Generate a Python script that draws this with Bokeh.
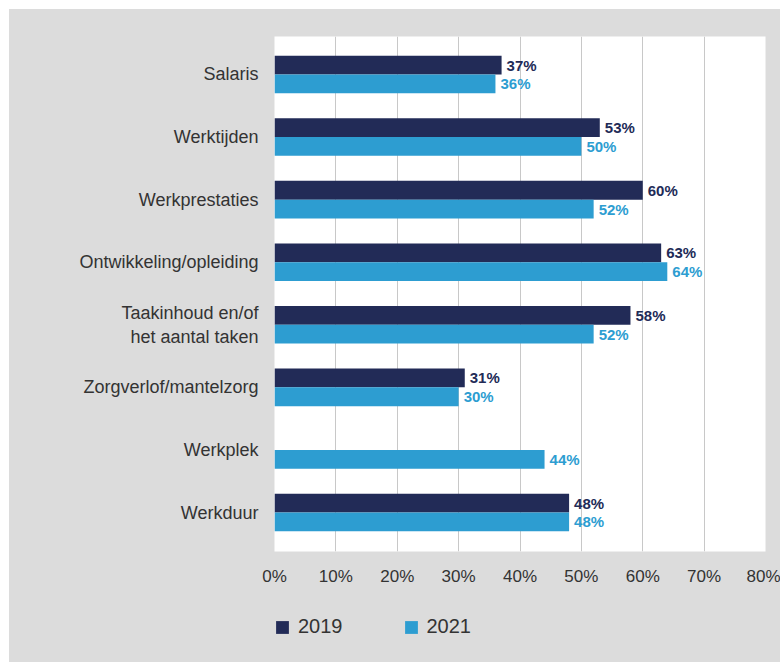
from bokeh.plotting import figure
from bokeh.layouts import column
from bokeh.models import (ColumnDataSource, Range1d, FixedTicker, Legend, LegendItem)
from bokeh.core.properties import value
from bokeh.embed import file_html
from bokeh.resources import INLINE

categories = ["Salaris", "Werktijden", "Werkprestaties", "Ontwikkeling/opleiding",
              "Taakinhoud en/of\nhet aantal taken", "Zorgverlof/mantelzorg",
              "Werkplek", "Werkduur"]
values_2019 = [37, 53, 60, 63, 58, 31, None, 48]
values_2021 = [36, 50, 52, 64, 52, 30, 44, 48]
series_names = ["2019", "2021"]
x_ticks = [0, 10, 20, 30, 40, 50, 60, 70, 80]

C2019 = "#222b57"
C2021 = "#2d9dd1"
BG = "#dcdcdc"
TXT = "#333333"
BAR_H = 0.30

def make_source(vals, shift):
    ys, xs, labels = [], [], []
    for i, v in enumerate(vals):
        if v is None:
            continue
        ys.append(i + shift)
        xs.append(v)
        labels.append(f"{v}%")
    return ColumnDataSource(dict(y=ys, x=xs, label=labels))

s19 = make_source(values_2019, -BAR_H / 2)
s21 = make_source(values_2021, BAR_H / 2)

n = len(categories)
p = figure(width=771, height=591, output_backend="svg", toolbar_location=None,
           x_range=Range1d(0, 80), y_range=Range1d(n - 1 + 0.623, -0.607),
           min_border_left=265, min_border_right=15, min_border_top=27,
           min_border_bottom=49)
p.background_fill_color = "white"
p.border_fill_color = BG
p.outline_line_color = None

r1 = p.hbar(y="y", right="x", left=0, height=BAR_H, source=s19,
            fill_color=C2019, line_color=None)
r2 = p.hbar(y="y", right="x", left=0, height=BAR_H, source=s21,
            fill_color=C2021, line_color=None)

for src, col in ((s19, C2019), (s21, C2021)):
    p.text(x="x", y="y", text="label", source=src, x_offset=5,
           text_baseline="middle", text_align="left", text_color=col,
           text_font=value("Liberation Sans"), text_font_style="bold",
           text_font_size="15px")

p.ygrid.grid_line_color = None
p.xgrid.grid_line_color = "#c8c8c8"
p.xgrid.grid_line_width = 1

p.xaxis.ticker = FixedTicker(ticks=x_ticks)
p.xaxis.major_label_overrides = {t: f"{t}%" for t in x_ticks}
p.xaxis.axis_line_color = None
p.xaxis.major_tick_line_color = None
p.xaxis.minor_tick_line_color = None
p.xaxis.major_tick_out = 0
p.xaxis.major_tick_in = 0
p.xaxis.major_label_standoff = 15
p.xaxis.major_label_text_font = "Liberation Sans"
p.xaxis.major_label_text_font_size = "17px"
p.xaxis.major_label_text_color = TXT

p.yaxis.ticker = FixedTicker(ticks=list(range(n)))
p.yaxis.major_label_overrides = {i: c for i, c in enumerate(categories)}
p.yaxis.axis_line_color = None
p.yaxis.major_tick_line_color = None
p.yaxis.minor_tick_line_color = None
p.yaxis.major_tick_out = 0
p.yaxis.major_tick_in = 0
p.yaxis.major_label_standoff = 16
p.yaxis.major_label_text_font = "Liberation Sans"
p.yaxis.major_label_text_font_size = "18px"
p.yaxis.major_label_text_color = TXT

# legend strip below the chart
pl = figure(width=771, height=62, output_backend="svg", toolbar_location=None,
            x_range=Range1d(1000, 1001), y_range=Range1d(1000, 1001),
            x_axis_location=None, y_axis_location=None,
            min_border_left=0, min_border_right=0, min_border_top=0,
            min_border_bottom=0)
pl.background_fill_alpha = 0
pl.border_fill_color = BG
pl.outline_line_color = None
pl.grid.grid_line_color = None
d1 = pl.hbar(y="y", right="x", left=0, height=BAR_H, source=s19,
             fill_color=C2019, line_color=None)
d2 = pl.hbar(y="y", right="x", left=0, height=BAR_H, source=s21,
             fill_color=C2021, line_color=None)
legend = Legend(items=[LegendItem(label=series_names[0], renderers=[d1]),
                       LegendItem(label=series_names[1], renderers=[d2])],
                orientation="horizontal", location=(0, 24),
                glyph_width=16, glyph_height=16, label_height=16,
                label_standoff=8, spacing=60,
                padding=0, margin=0, background_fill_alpha=0,
                border_line_color=None,
                label_text_font="Liberation Sans", label_text_font_size="20px",
                label_text_color=TXT)
pl.add_layout(legend, "center")

layout = column(p, pl, spacing=0, margin=(9, 0, 0, 9),
                styles={"background-color": BG})
open("out.html", "w").write(file_html(layout, INLINE))
